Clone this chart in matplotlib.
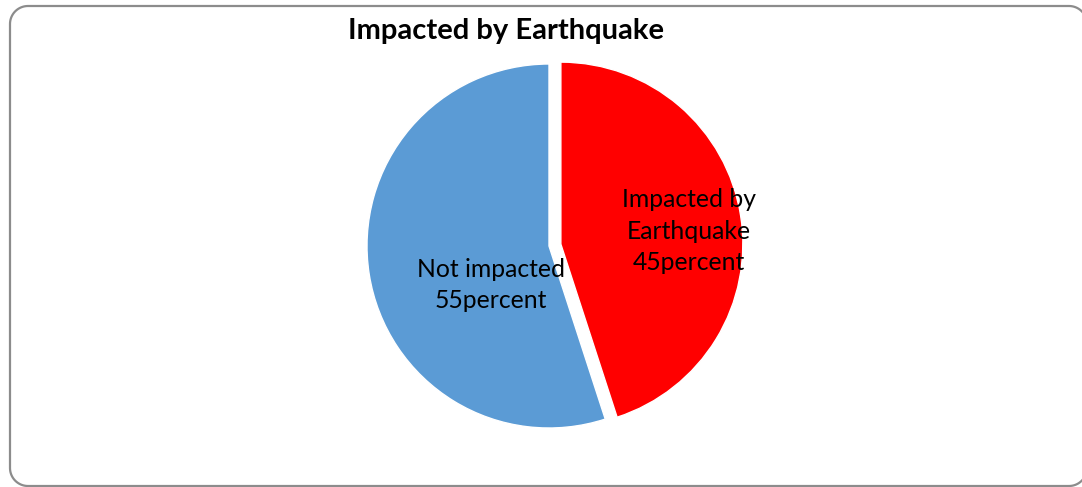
import numpy as np
import matplotlib.pyplot as plt
from matplotlib.lines import Line2D
from matplotlib.transforms import IdentityTransform

# Data
labels = ['Impacted by\nEarthquake\n45percent', 'Not impacted\n55percent']
values = [45, 55]
colors = ['#ff0000', '#5b9bd5']
explode = [0.066, 0]

W, H, DPI = 1082, 487, 100
fig = plt.figure(figsize=(W / DPI, H / DPI), dpi=DPI)

# rounded chart-area border, built as a polyline in pixel coords
x0, x1, y0, y1, rr = 10, 1087, 1, 481, 18
pts = []
for (ccx, ccy, a0) in [(x1 - rr, y1 - rr, 0), (x0 + rr, y1 - rr, 90),
                       (x0 + rr, y0 + rr, 180), (x1 - rr, y0 + rr, 270)]:
    t = np.radians(np.linspace(a0, a0 + 90, 20))
    pts.append(np.column_stack([ccx + rr * np.cos(t), ccy + rr * np.sin(t)]))
pts = np.vstack(pts + [pts[0][:1]])
fig.lines.append(Line2D(pts[:, 0], pts[:, 1], transform=IdentityTransform(),
                        color='#8c8c8c', linewidth=1.6, zorder=-1))

# axes spanning the whole figure, 1 data unit = pie radius in pixels
R = 182.0
cx, cy = 549.0, 246.0
ax = fig.add_axes([0, 0, 1, 1])
ax.axis('off')

wedges, _ = ax.pie(values, colors=colors, explode=explode, startangle=90,
                   counterclock=False, radius=1.0,
                   wedgeprops=dict(edgecolor='white', linewidth=1))
ax.set_xlim(-cx / R, (W - cx) / R)
ax.set_ylim(-(H - cy) / R, cy / R)
ax.set_aspect('equal')

font = 'Lato'
ax.text(0.77, 0.08, labels[0], ha='center', va='center', fontsize=17.8,
        family=font, linespacing=1.45)
ax.text(-0.32, -0.215, labels[1], ha='center', va='center', fontsize=17.8,
        family=font, linespacing=1.45)

fig.text(506 / W, 1 - 31 / H, 'Impacted by Earthquake', ha='center', va='center',
         fontsize=21, fontweight='bold', family=font)

fig.savefig('out.png', dpi=DPI)
